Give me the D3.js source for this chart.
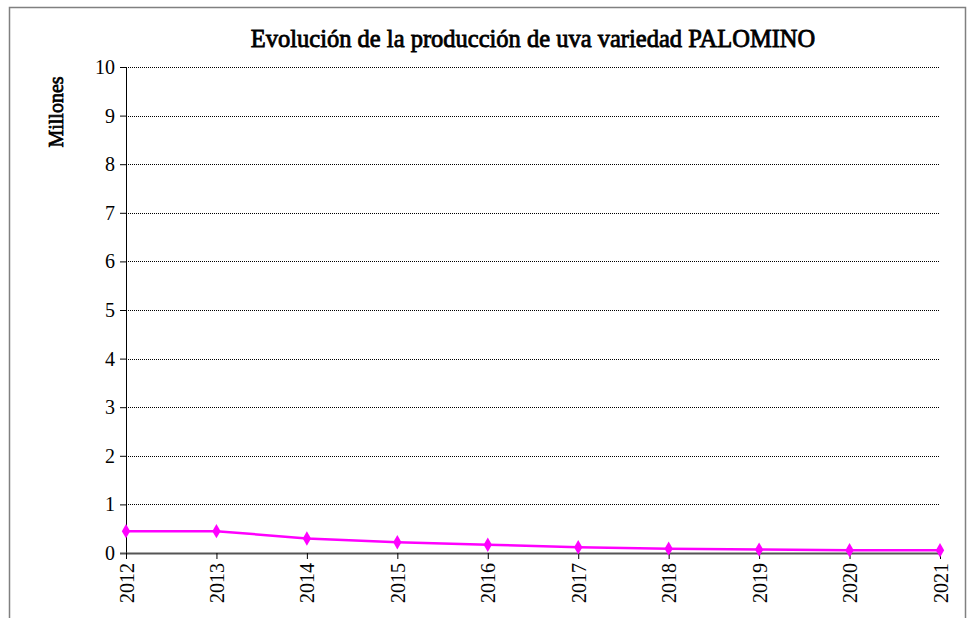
<!DOCTYPE html>
<html>
<head>
<meta charset="utf-8">
<script src="https://cdn.jsdelivr.net/npm/d3@7"></script>
<style>
  body { margin: 0; background: #fff; }
</style>
</head>
<body>
<div id="chart"></div>
<script>
// Data (millions)
var years = ['2012', '2013', '2014', '2015', '2016', '2017', '2018', '2019', '2020', '2021'];
var produccion = [0.45, 0.45, 0.30, 0.22, 0.17, 0.12, 0.09, 0.07, 0.055, 0.055];
var yTicks = [0, 1, 2, 3, 4, 5, 6, 7, 8, 9, 10];

var serif = '"Liberation Serif", "Times New Roman", Times, serif';
var W = 973, H = 618;
var margin = { top: 67, right: 33, bottom: 65, left: 126 };
var width = W - margin.left - margin.right;
var height = H - margin.top - margin.bottom;

var svg = d3.select('#chart').append('svg')
    .attr('width', W)
    .attr('height', H);

// Outer frame (bottom is cut off)
svg.append('path')
    .attr('d', 'M9.5,' + H + 'V7.5H965.5V' + H)
    .attr('fill', 'none')
    .attr('stroke', '#808080')
    .attr('stroke-width', 1.5);

var g = svg.append('g')
    .attr('transform', 'translate(' + margin.left + ',' + margin.top + ')');

var x = d3.scalePoint().domain(years).range([0, width]);
var y = d3.scaleLinear().domain([0, 10]).range([height, 0]);

// Grid lines
g.selectAll('.grid')
    .data(yTicks.filter(function (d) { return d > 0; }))
    .enter().append('line')
    .attr('x1', 0)
    .attr('x2', width)
    .attr('y1', function (d) { return Math.round(y(d)) + 0.5; })
    .attr('y2', function (d) { return Math.round(y(d)) + 0.5; })
    .attr('stroke', '#000')
    .attr('stroke-width', 1)
    .attr('stroke-dasharray', '1 1');

// Y axis
var yAxis = g.append('g')
    .call(d3.axisLeft(y).tickValues(yTicks).tickSize(6).tickPadding(5));
yAxis.select('.domain').attr('d', 'M0.5,' + y(10) + 'V' + height);
yAxis.selectAll('text')
    .style('font-family', serif)
    .style('font-size', '20px');

// X axis
var xAxis = g.append('g')
    .attr('transform', 'translate(0,' + height + ')')
    .call(d3.axisBottom(x).tickSize(6).tickPadding(6));
xAxis.select('.domain').attr('d', 'M-6,0.5H' + width).attr('stroke', '#555').attr('stroke-width', 2);
xAxis.selectAll('text')
    .style('font-family', serif)
    .style('font-size', '20px')
    .attr('text-anchor', 'end')
    .attr('dy', '0.35em')
    .attr('transform', 'translate(0,6) rotate(-90)')
    .attr('x', -4)
    .attr('y', 0);

// Line
g.append('path')
    .datum(produccion)
    .attr('fill', 'none')
    .attr('stroke', '#FF00FF')
    .attr('stroke-width', 2.5)
    .attr('d', d3.line()
        .x(function (d, i) { return x(years[i]); })
        .y(function (d) { return y(d); }));

// Diamond markers
g.selectAll('.dot')
    .data(produccion)
    .enter().append('path')
    .attr('d', d3.symbol().type(d3.symbolDiamond).size(60))
    .attr('transform', function (d, i) { return 'translate(' + x(years[i]) + ',' + y(d) + ')'; })
    .attr('fill', '#FF00FF');

// Title (serif bold faked with a thin stroke)
svg.append('text')
    .attr('x', 533)
    .attr('y', 47)
    .attr('text-anchor', 'middle')
    .style('font-family', serif)
    .style('font-size', '24.5px')
    .attr('stroke', '#000')
    .attr('stroke-width', 0.8)
    .text('Evolución de la producción de uva variedad PALOMINO');

// Y axis label
svg.append('text')
    .attr('transform', 'translate(63,112) rotate(-90)')
    .attr('text-anchor', 'middle')
    .style('font-family', serif)
    .style('font-size', '20px')
    .attr('stroke', '#000')
    .attr('stroke-width', 0.7)
    .text('Millones');
</script>
</body>
</html>
